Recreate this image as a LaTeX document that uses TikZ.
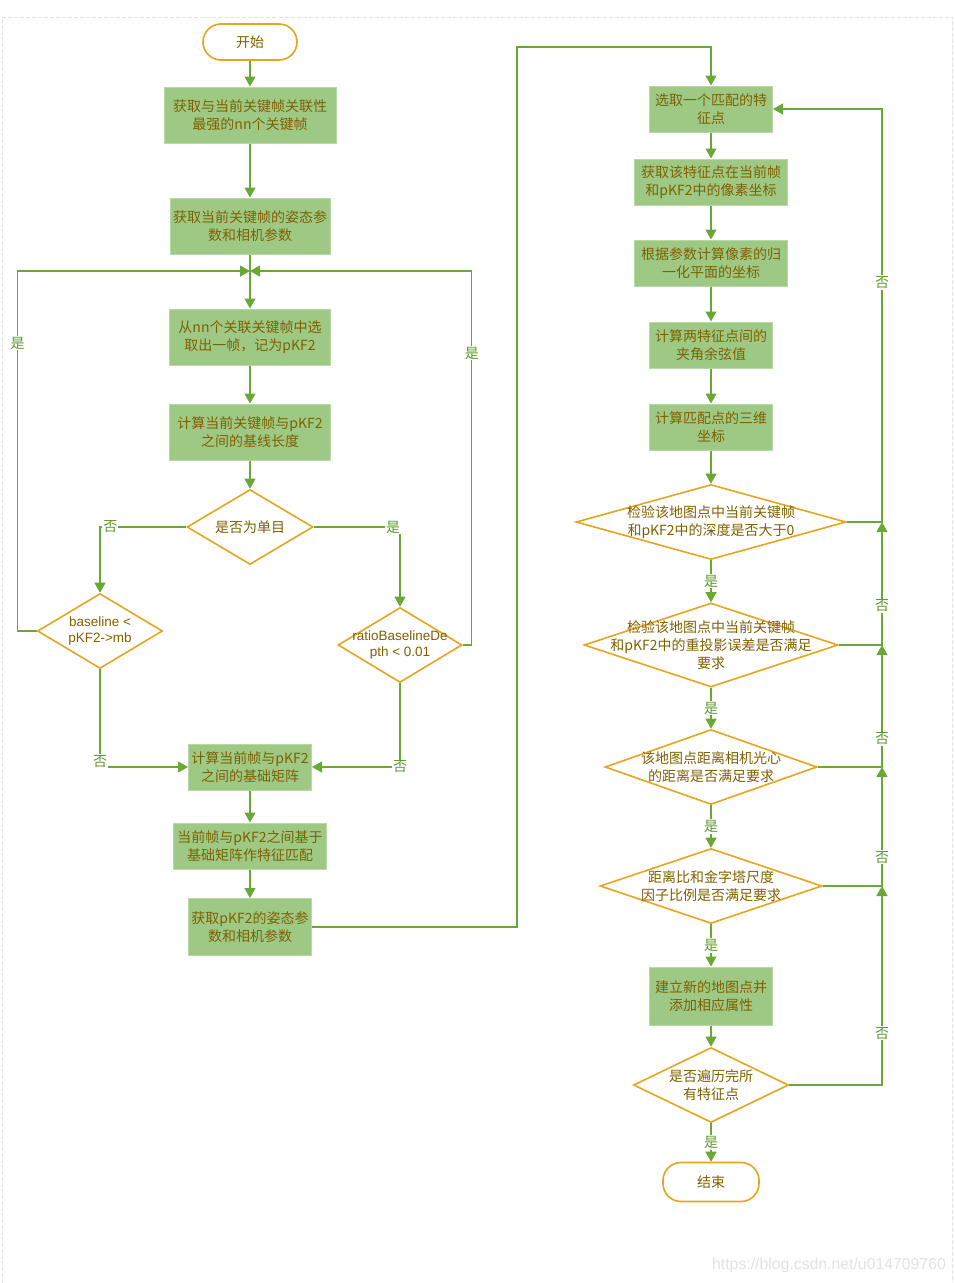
\documentclass[tikz,border=0pt]{standalone}
\usepackage{fontspec}
\usetikzlibrary{shapes.geometric,arrows.meta}
\newfontfamily\cjk{Noto Sans CJK SC}
\newfontfamily\arial{Liberation Sans}
\definecolor{boxgreen}{HTML}{9EC984}
\definecolor{boxedge}{HTML}{B8D8A4}
\definecolor{lineorange}{HTML}{E5A51C}
\definecolor{textbrown}{HTML}{7F6000}
\definecolor{arrowgreen}{HTML}{6AA836}
\definecolor{labelgreen}{HTML}{5C9A2C}
\definecolor{framegray}{HTML}{E2E2E2}

\tikzset{
	process/.style={rectangle, fill=boxgreen, draw=boxedge, line width=1pt, inner sep=0pt, align=center, text=textbrown, font=\cjk\fontsize{14}{18}\selectfont},
	terminal/.style={rectangle, rounded corners=18pt, draw=lineorange, line width=1.6pt, fill=white, text=textbrown, font=\cjk\fontsize{14}{18}\selectfont},
	decision/.style={diamond, draw=lineorange, line width=1.6pt, fill=white, inner sep=0pt},
	dtext/.style={align=center, text=textbrown, font=\cjk\fontsize{14}{18}\selectfont},
	latintext/.style={align=center, text=textbrown, font=\arial\fontsize{13.5}{17}\selectfont},
	flow/.style={draw=arrowgreen, line width=1.2pt, -{Triangle[width=11pt,length=10pt]}},
	yesno/.style={fill=white, inner sep=1pt, text=labelgreen, font=\cjk\fontsize{14}{16}\selectfont},
}

\begin{document}
\begin{tikzpicture}[x=1pt,y=-1pt]
				\useasboundingbox (0,0) rectangle (955,1283);
				% page frame
				\draw[framegray, line width=1pt, dash pattern=on 4pt off 2pt] (2.5,1283) -- (2.5,17) -- (952,17) -- (952,1283);
				
				% Left column
				\node[terminal, minimum width=94pt, minimum height=36pt] (start) at (250,42) {开始};
				\node[process, minimum width=172pt, minimum height=56pt] (nbest) at (250,115) {获取与当前关键帧关联性\\最强的nn个关键帧};
				\node[process, minimum width=160pt, minimum height=56pt] (curpose) at (250,226) {获取当前关键帧的姿态参\\数和相机参数};
				\coordinate (join) at (250,271); % both "是" loops come back here
				\node[process, minimum width=161pt, minimum height=56pt] (pick) at (250,337) {从nn个关联关键帧中选\\取出一帧，记为pKF2};
				\node[process, minimum width=161pt, minimum height=56pt] (base) at (250,432) {计算当前关键帧与pKF2\\之间的基线长度};
				
				\node[decision, minimum width=126pt, minimum height=75pt, label={[dtext]center:是否为单目}] (mono) at (250,527) {};
				\node[decision, minimum width=125pt, minimum height=75pt, label={[latintext]center:{baseline <\\pKF2->mb}}] (stereo) at (100,631) {};
				\node[decision, minimum width=124pt, minimum height=75pt, label={[latintext]center:{ratioBaselineDe\\pth < 0.01}}] (ratio) at (400,645) {};
				
				\node[process, minimum width=123pt, minimum height=46pt] (fmat) at (250,767) {计算当前帧与pKF2\\之间的基础矩阵};
				\node[process, minimum width=153pt, minimum height=46pt] (match) at (250,846) {当前帧与pKF2之间基于\\基础矩阵作特征匹配};
				\node[process, minimum width=123pt, minimum height=57pt] (kfpose) at (250,927) {获取pKF2的姿态参\\数和相机参数};
				
				% Right column
				\node[process, minimum width=123pt, minimum height=46pt] (feat) at (711,109) {选取一个匹配的特\\征点};
				\node[process, minimum width=153pt, minimum height=46pt] (pixel) at (711,182) {获取该特征点在当前帧\\和pKF2中的像素坐标};
				\node[process, minimum width=153pt, minimum height=46pt] (norm) at (711,263) {根据参数计算像素的归\\一化平面的坐标};
				\node[process, minimum width=123pt, minimum height=46pt] (cosine) at (711,345) {计算两特征点间的\\夹角余弦值};
				\node[process, minimum width=123pt, minimum height=46pt] (tri) at (711,427) {计算匹配点的三维\\坐标};
				
				\node[decision, minimum width=270pt, minimum height=75pt, label={[dtext]center:{检验该地图点中当前关键帧\\和pKF2中的深度是否大于0}}] (depth) at (711,522) {};
				\node[decision, minimum width=254pt, minimum height=84pt, label={[dtext]center:{检验该地图点中当前关键帧\\和pKF2中的重投影误差是否满足\\要求}}] (reproj) at (711,645) {};
				\node[decision, minimum width=212pt, minimum height=75pt, label={[dtext]center:{该地图点距离相机光心\\的距离是否满足要求}}] (dist) at (711,767) {};
				\node[decision, minimum width=222pt, minimum height=75pt, label={[dtext]center:{距离比和金字塔尺度\\因子比例是否满足要求}}] (scale) at (711,886) {};
				\node[process, minimum width=123pt, minimum height=58pt] (newmp) at (711,996) {建立新的地图点并\\添加相应属性};
				\node[decision, minimum width=155pt, minimum height=75pt, label={[dtext]center:{是否遍历完所\\有特征点}}] (alldone) at (711,1085) {};
				\node[terminal, minimum width=96pt, minimum height=39pt] (stop) at (711,1182) {结束};
				
				% watermark
				\node[text=framegray, font=\arial\fontsize{15.8}{18}\selectfont] (mark) at (829,1265) {https://blog.csdn.net/u014709760};
				
				% Arrows, left column
				\draw[flow] (start) -- (nbest);
				\draw[flow] (nbest) -- (curpose);
				\draw[flow] (curpose) -- (pick); % through the join point
				\draw[flow] (pick) -- (base);
				\draw[flow] (base) -- (mono);
				\draw[flow] (mono.west) -| node[yesno, pos=0.44] {否} (stereo.north);
				\draw[flow] (mono.east) -| node[yesno, pos=0.46] {是} (ratio.north);
				\draw[flow] (stereo.west) -- ++(-19,0) |- node[yesno, pos=0.4] {是} (join);
				\draw[flow] (ratio.east) -- ++(9,0) |- node[yesno, pos=0.39] {是} (join);
				\draw[flow] (stereo.south) |- node[yesno, pos=0.47] {否} (fmat.west);
				\draw[flow] (ratio.south) |- node[yesno, pos=0.5] {否} (fmat.east);
				\draw[flow] (fmat) -- (match);
				\draw[flow] (match) -- (kfpose);
				
				% over to the right column
				\coordinate (over) at (517,47);
				\draw[flow] (kfpose.east) -| (over) -| (feat.north);
				
				% Arrows, right column
				\draw[flow] (feat) -- (pixel);
				\draw[flow] (pixel) -- (norm);
				\draw[flow] (norm) -- (cosine);
				\draw[flow] (cosine) -- (tri);
				\draw[flow] (tri) -- (depth);
				\draw[flow] (depth) -- node[yesno] {是} (reproj);
				\draw[flow] (reproj) -- node[yesno] {是} (dist);
				\draw[flow] (dist) -- node[yesno] {是} (scale);
				\draw[flow] (scale) -- node[yesno] {是} (newmp);
				\draw[flow] (newmp) -- (alldone);
				\draw[flow] (alldone) -- node[yesno] {是} (stop);
				
				% "否" back to the next feature
				\coordinate (back1) at (882,522);
				\coordinate (back2) at (882,645);
				\coordinate (back3) at (882,767);
				\coordinate (back4) at (882,886);
				\draw[flow] (depth.east) -- (back1) |- node[yesno, pos=0.29] {否} (feat.east);
				\draw[flow] (reproj.east) -| node[yesno, pos=0.66] {否} (back1);
				\draw[flow] (dist.east) -| node[yesno, pos=0.615] {否} (back2);
				\draw[flow] (scale.east) -| node[yesno, pos=0.62] {否} (back3);
				\draw[flow] (alldone.east) -| node[yesno, pos=0.63] {否} (back4);
			\end{tikzpicture}
\end{document}
